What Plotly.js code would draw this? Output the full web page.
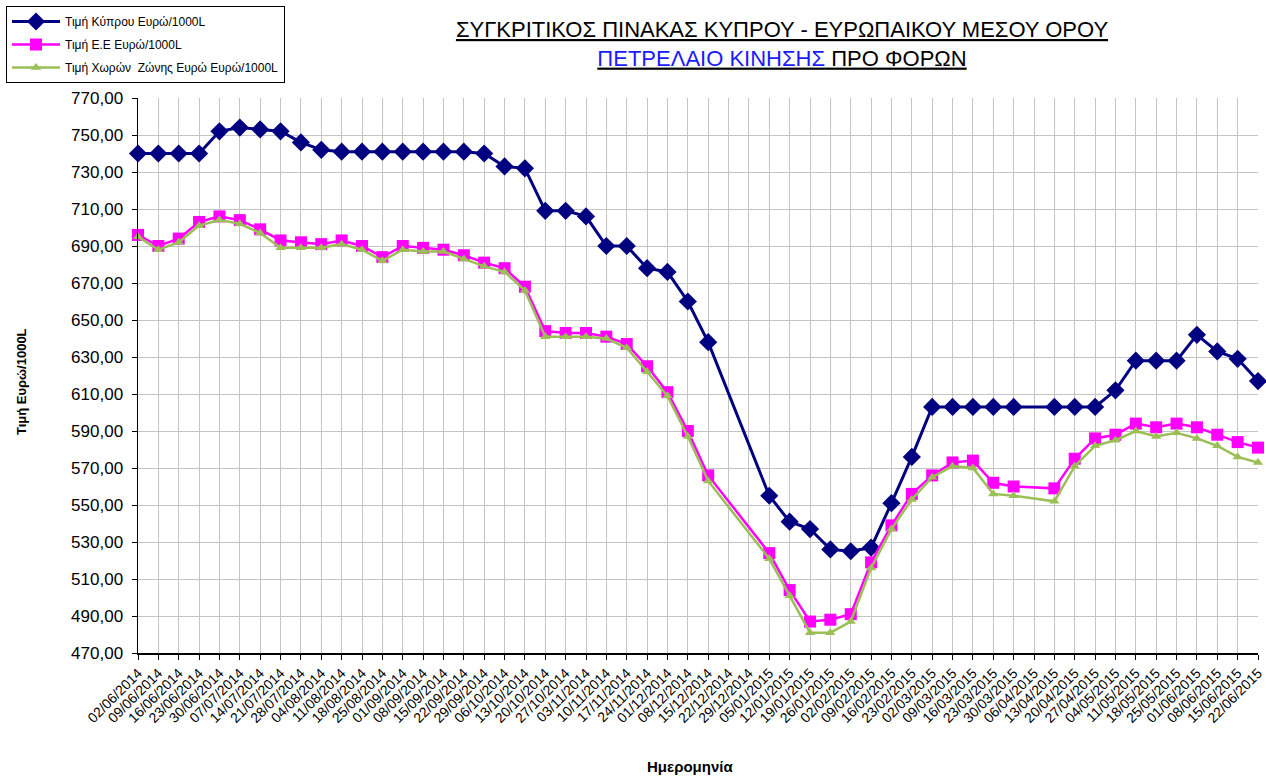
<!DOCTYPE html>
<html>
<head>
<meta charset="utf-8">
<script src="https://cdn.plot.ly/plotly-3.0.1.min.js"></script>
<style>html,body{margin:0;padding:0;background:#fff;}#chart{width:1266px;height:778px;}</style>
</head>
<body>
<div id="chart"></div>
<script>
var dates = ["02/06/2014","09/06/2014","16/06/2014","23/06/2014","30/06/2014","07/07/2014","14/07/2014","21/07/2014","28/07/2014","04/08/2014","11/08/2014","18/08/2014","25/08/2014","01/09/2014","08/09/2014","15/09/2014","22/09/2014","29/09/2014","06/10/2014","13/10/2014","20/10/2014","27/10/2014","03/11/2014","10/11/2014","17/11/2014","24/11/2014","01/12/2014","08/12/2014","15/12/2014","22/12/2014","29/12/2014","05/01/2015","12/01/2015","19/01/2015","26/01/2015","02/02/2015","09/02/2015","16/02/2015","23/02/2015","02/03/2015","09/03/2015","16/03/2015","23/03/2015","30/03/2015","06/04/2015","13/04/2015","20/04/2015","27/04/2015","04/05/2015","11/05/2015","18/05/2015","25/05/2015","01/06/2015","08/06/2015","15/06/2015","22/06/2015"];

var cyprus = [740,740,740,740,752,754,753,752,746,742,741,741,741,741,741,741,741,740,733,732,709,709,706,690,690,678,676,660,638,null,null,555,541,537,526,525,527,551,576,603,603,603,603,603,null,603,603,603,612,628,628,628,642,633,629,617];

var eu = [696,690,694,703,706,704,699,693,692,691,693,690,684,690,689,688,685,681,678,668,644,643,643,641,637,625,611,590,566,null,null,524,504,487,488,491,519,539,556,566,573,574,562,560,null,559,575,586,588,594,592,594,592,588,584,581];

var eurozone = [695,688,692,701,704,702,697,689,689,689,691,688,682,688,687,687,683,679,676,666,641,641,641,640,635,622,609,587,563,null,null,521,501,481,481,487,516,537,553,565,571,570,556,555,null,552,571,582,585,590,587,589,586,582,576,573];

var names = ["Τιμή Κύπρου Ευρώ/1000L","Τιμή Ε.Ε Ευρώ/1000L","Τιμή Χωρών  Ζώνης Ευρώ Ευρώ/1000L"];
var xTitle = "Ημερομηνία";
var yTitle = "Τιμή Ευρώ/1000L";

var F = "Liberation Sans, Arial, sans-serif";

var traces = [
  {x: dates, y: cyprus, name: names[0], legendgroup: "a", type: "scatter", mode: "lines+markers", connectgaps: true, cliponaxis: false,
   line: {color: "#000080", width: 3}, marker: {symbol: "diamond", size: 14, color: "#000080"}},
  {x: dates, y: eu, name: names[1], legendgroup: "b", type: "scatter", mode: "lines+markers", connectgaps: true, cliponaxis: false,
   line: {color: "#FF00FF", width: 2.5}, marker: {symbol: "square", size: 12, color: "#FF00FF"}},
  {x: dates, y: eurozone, name: names[2], legendgroup: "c", type: "scatter", mode: "lines+markers", connectgaps: true, cliponaxis: false,
   line: {color: "#9BBF55", width: 2.5}, marker: {symbol: "triangle-up", size: 9, color: "#9BBF55"}}
];

var layout = {
  width: 1266, height: 778,
  margin: {l: 138, r: 8, t: 98, b: 125, autoexpand: false},
  paper_bgcolor: "#fff", plot_bgcolor: "#fff",
  separators: ",.",
  font: {family: F, color: "#000"},
  showlegend: true,
  title: {
    text: "<u>ΣΥΓΚΡΙΤΙΚΟΣ ΠΙΝΑΚΑΣ ΚΥΠΡΟΥ - ΕΥΡΩΠΑΙΚΟΥ ΜΕΣΟΥ ΟΡΟΥ</u><br><u><span style=\"color:#1a1aff\">ΠΕΤΡΕΛΑΙΟ ΚΙΝΗΣΗΣ</span> ΠΡΟ ΦΟΡΩΝ</u>",
    font: {family: F, size: 22, color: "#000"},
    x: 782/1266, xref: "container", xanchor: "center",
    y: 1 - 37/778, yref: "container", yanchor: "top"
  },
  legend: {
    x: 6/1266, y: 1 - 6/778, xref: "container", yref: "container", xanchor: "left", yanchor: "top",
    bgcolor: "#fff", bordercolor: "#000", borderwidth: 1,
    font: {family: F, size: 12, color: "#000"},
    tracegroupgap: 4, itemwidth: 48
  },
  xaxis: {
    type: "category", range: [0, 55], dtick: 1,
    tickangle: -45, tickfont: {family: F, size: 14, color: "#000"},
    showgrid: true, gridcolor: "#c4c4c4", gridwidth: 1,
    showline: true, linecolor: "#000", linewidth: 1.5,
    ticks: "outside", ticklen: 5, tickcolor: "#000",
    zeroline: false, fixedrange: true, automargin: false
  },
  yaxis: {
    range: [470, 770], dtick: 20, tick0: 470, tickformat: ".2f",
    tickfont: {family: F, size: 17, color: "#000"},
    showgrid: true, gridcolor: "#c4c4c4", gridwidth: 1,
    showline: true, linecolor: "#000", linewidth: 1.5,
    ticks: "outside", ticklen: 5, tickcolor: "#000", ticklabelstandoff: 5,
    zeroline: false, fixedrange: true, automargin: false
  },
  annotations: [
    {text: "<b>" + xTitle + "</b>", xref: "paper", yref: "paper", x: (690-138)/1120, y: (653-766)/555,
     xanchor: "center", yanchor: "middle", showarrow: false, font: {family: F, size: 15, color: "#000"}},
    {text: "<b>" + yTitle + "</b>", xref: "paper", yref: "paper", x: (21-138)/1120, y: (653-382)/555,
     xanchor: "center", yanchor: "middle", textangle: -90, showarrow: false, font: {family: F, size: 13, color: "#000"}}
  ]
};

Plotly.newPlot("chart", traces, layout, {displayModeBar: false, staticPlot: true});
</script>
</body>
</html>
